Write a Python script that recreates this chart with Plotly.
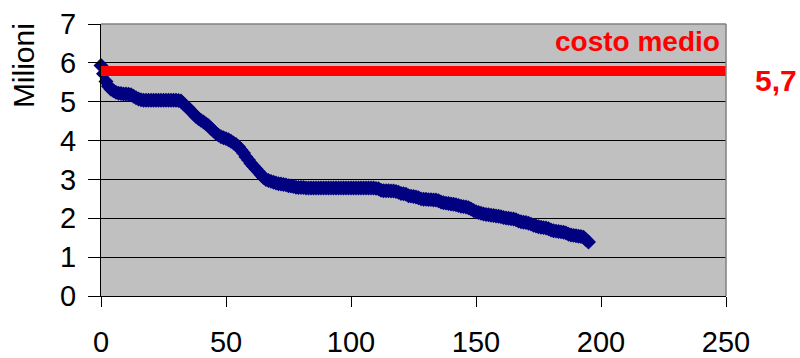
import plotly.graph_objects as go

# Sorted cost values (millions), one point per item index
costs = [
    5.93, 5.72, 5.52, 5.40, 5.32, 5.28, 5.24, 5.22, 5.21, 5.20,
    5.20, 5.19, 5.18, 5.14, 5.10, 5.07, 5.05, 5.04, 5.04, 5.04,
    5.04, 5.04, 5.04, 5.04, 5.04, 5.04, 5.04, 5.04, 5.04, 5.04,
    5.04, 5.03, 5.02, 4.95, 4.88, 4.83, 4.76, 4.69, 4.62, 4.57,
    4.52, 4.48, 4.43, 4.38, 4.31, 4.25, 4.19, 4.14, 4.10, 4.07,
    4.05, 4.02, 3.98, 3.94, 3.90, 3.84, 3.76, 3.68, 3.58, 3.50,
    3.41, 3.34, 3.27, 3.20, 3.12, 3.05, 3.00, 2.97, 2.95, 2.93,
    2.91, 2.89, 2.88, 2.87, 2.86, 2.84, 2.83, 2.82, 2.80, 2.79,
    2.79, 2.79, 2.78, 2.78, 2.78, 2.78, 2.78, 2.78, 2.78, 2.78,
    2.78, 2.78, 2.78, 2.78, 2.78, 2.78, 2.78, 2.78, 2.78, 2.78,
    2.78, 2.78, 2.78, 2.78, 2.78, 2.78, 2.78, 2.78, 2.78, 2.78,
    2.77, 2.76, 2.72, 2.71, 2.71, 2.71, 2.70, 2.70, 2.69, 2.67,
    2.64, 2.63, 2.62, 2.58, 2.57, 2.56, 2.55, 2.53, 2.50, 2.49,
    2.49, 2.48, 2.48, 2.47, 2.47, 2.45, 2.42, 2.40, 2.39, 2.38,
    2.37, 2.36, 2.35, 2.33, 2.31, 2.30, 2.29, 2.27, 2.24, 2.20,
    2.17, 2.15, 2.13, 2.11, 2.10, 2.09, 2.08, 2.07, 2.06, 2.05,
    2.04, 2.02, 2.01, 2.00, 1.99, 1.98, 1.96, 1.93, 1.91, 1.90,
    1.89, 1.87, 1.85, 1.82, 1.80, 1.78, 1.77, 1.76, 1.75, 1.73,
    1.70, 1.68, 1.67, 1.66, 1.65, 1.64, 1.62, 1.59, 1.57, 1.56,
    1.55, 1.54, 1.53, 1.51, 1.45, 1.39,
]
items = list(range(len(costs)))

mean_cost = 5.79
mean_label = "5,7"
mean_title = "costo medio"
x_range = [0, 250]
y_range = [0, 7]
x_ticks = [0, 50, 100, 150, 200, 250]
y_ticks = [0, 1, 2, 3, 4, 5, 6, 7]

FONT = "Liberation Sans, Arial, sans-serif"

fig = go.Figure()
fig.add_trace(go.Scatter(
    x=items, y=costs, mode="markers",
    marker=dict(symbol="diamond", size=11.5, color="#000080", line=dict(width=0)),
    hoverinfo="skip", showlegend=False, cliponaxis=False,
))
fig.add_trace(go.Scatter(
    x=x_range, y=[mean_cost, mean_cost], mode="lines",
    line=dict(color="#FF0000", width=10),
    hoverinfo="skip", showlegend=False, cliponaxis=False,
))

fig.update_layout(
    width=800, height=358,
    margin=dict(l=101, r=74, t=24, b=62, autoexpand=False),
    paper_bgcolor="white",
    plot_bgcolor="#C0C0C0",
    font=dict(family=FONT, color="black", size=29),
    xaxis=dict(
        range=x_range, tickvals=x_ticks, ticktext=[str(v) for v in x_ticks],
        showgrid=False, zeroline=False, automargin=False,
        showline=True, linecolor="black", linewidth=1,
        ticks="outside", ticklen=10, tickcolor="black", tickwidth=1,
        ticklabelstandoff=10,
        tickfont=dict(size=29, family=FONT),
    ),
    yaxis=dict(
        range=y_range, tickvals=y_ticks, ticktext=[str(v) for v in y_ticks],
        showgrid=True, gridcolor="black", gridwidth=1,
        zeroline=False, automargin=False,
        showline=True, linecolor="black", linewidth=1,
        ticks="outside", ticklen=12, tickcolor="black", tickwidth=1,
        ticklabelstandoff=6,
        tickfont=dict(size=29, family=FONT),
    ),
    shapes=[
        dict(type="line", xref="paper", yref="paper", x0=0, x1=1, y0=1, y1=1,
             line=dict(color="#808080", width=1.5), layer="above"),
        dict(type="line", xref="paper", yref="paper", x0=1, x1=1, y0=0, y1=1,
             line=dict(color="#808080", width=1.5), layer="above"),
    ],
    annotations=[
        dict(text="Milioni", xref="paper", yref="paper", x=-0.124, y=0.847,
             textangle=-90, showarrow=False, xanchor="center", yanchor="middle",
             font=dict(size=30, family=FONT, color="black")),
        dict(text="<b>" + mean_title + "</b>", xref="x", yref="paper",
             x=x_range[1], y=0.935, xanchor="right", yanchor="middle",
             xshift=-4, showarrow=False,
             font=dict(size=28, family=FONT, color="#FF0000")),
        dict(text="<b>" + mean_label + "</b>", xref="paper", yref="y",
             x=1, y=mean_cost, xanchor="center", yanchor="middle",
             xshift=50, yshift=-9, showarrow=False,
             font=dict(size=30, family=FONT, color="#FF0000")),
    ],
)

fig.write_html("out.html")
